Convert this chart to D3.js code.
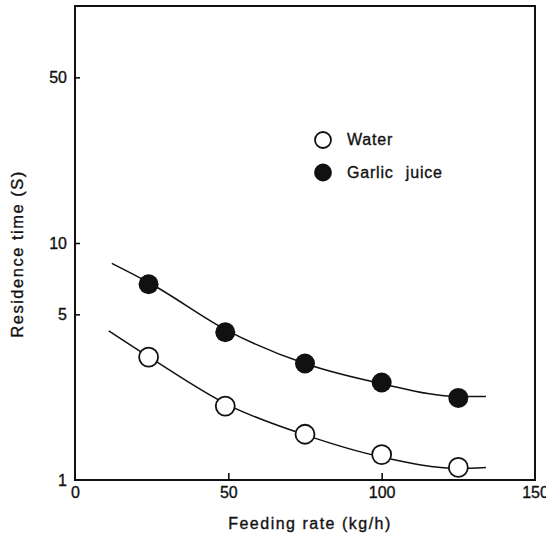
<!DOCTYPE html>
<html>
<head>
<meta charset="utf-8">
<script src="https://cdn.jsdelivr.net/npm/d3@7"></script>
<style>
    body { margin: 0; background: #fff; }
    text { font-family: "Liberation Sans", Arial, sans-serif; fill: #111; stroke: #111; stroke-width: 0.35; }
</style>
</head>
<body>
<div id="chart"></div>
<script>
// measured points
var feed = [24, 49, 75, 100, 125];
var water = [3.3, 2.05, 1.56, 1.28, 1.13];
var garlic = [6.7, 4.2, 3.1, 2.58, 2.22];

// fitted curves as drawn in the figure
var waterFitX = [11, 25, 50, 75, 100, 125, 134];
var waterFitY = [4.26, 3.25, 2.07, 1.55, 1.25, 1.12, 1.13];
var garlicFitX = [12, 25, 50, 75, 100, 125, 134];
var garlicFitY = [8.2, 6.7, 4.25, 3.1, 2.55, 2.25, 2.25];

var xTicks = [0, 50, 100, 150];
var yTicks = [1, 5, 10, 50];

(function() {
    var W = 546, H = 536;
    var margin = { top: 6, left: 75, right: 11, bottom: 56 },
        width = W - margin.left - margin.right,
        height = H - margin.top - margin.bottom;

    var svg = d3.select("#chart").append("svg")
        .attr("width", W)
        .attr("height", H)
        .append("g")
        .attr("transform", "translate(" + margin.left + "," + margin.top + ")");

    var x = d3.scaleLinear().domain([0, 150]).range([0, width]);
    var y = d3.scaleLog().domain([1, 100]).range([height, 0]);

    // frame
    svg.append("rect")
        .attr("width", width)
        .attr("height", height)
        .attr("fill", "none")
        .attr("stroke", "#111")
        .attr("stroke-width", 2);

    // axes (ticks pointing inward)
    var xAxis = svg.append("g")
        .attr("transform", "translate(0," + height + ")")
        .call(d3.axisBottom(x).tickValues(xTicks).tickSize(-7).tickPadding(7).tickFormat(d3.format("d")));
    xAxis.select(".domain").remove();
    xAxis.selectAll(".tick line").attr("stroke-width", 1.5)
        .filter(d => d == 0 || d == 150).remove();
    xAxis.selectAll("text").attr("font-size", 16).attr("font-family", "Liberation Sans, Arial, sans-serif");

    var yAxis = svg.append("g")
        .call(d3.axisLeft(y).tickValues(yTicks).tickSize(-5).tickPadding(8).tickFormat(d3.format("d")));
    yAxis.select(".domain").remove();
    yAxis.selectAll(".tick line").attr("stroke-width", 1.5)
        .filter(d => d == 1).remove();
    yAxis.selectAll("text").attr("font-size", 16).attr("font-family", "Liberation Sans, Arial, sans-serif");

    // axis titles
    svg.append("text")
        .attr("x", 235)
        .attr("y", height + 49)
        .attr("text-anchor", "middle")
        .attr("font-size", 16)
        .attr("letter-spacing", 1.5)
        .text("Feeding rate (kg/h)");

    svg.append("text")
        .attr("transform", "translate(-52,248) rotate(-90)")
        .attr("text-anchor", "middle")
        .attr("font-size", 16.5)
        .attr("letter-spacing", 1.5)
        .text("Residence time (S)");

    // fitted curves
    var line = d3.line()
        .x(d => x(d[0]))
        .y(d => y(d[1]))
        .curve(d3.curveMonotoneX);

    [[waterFitX, waterFitY], [garlicFitX, garlicFitY]].forEach(function(s) {
        svg.append("path")
            .datum(d3.zip(s[0], s[1]))
            .attr("d", line)
            .attr("fill", "none")
            .attr("stroke", "#111")
            .attr("stroke-width", 1.5);
    });

    // markers
    svg.selectAll(".water")
        .data(d3.zip(feed, water))
        .enter().append("circle")
        .attr("class", "water")
        .attr("cx", d => x(d[0]))
        .attr("cy", d => y(d[1]))
        .attr("r", 9.5)
        .attr("fill", "#fff")
        .attr("stroke", "#111")
        .attr("stroke-width", 1.8);

    svg.selectAll(".garlic")
        .data(d3.zip(feed, garlic))
        .enter().append("circle")
        .attr("class", "garlic")
        .attr("cx", d => x(d[0]))
        .attr("cy", d => y(d[1]))
        .attr("r", 10)
        .attr("fill", "#111");

    // legend
    var legend = svg.append("g").attr("transform", "translate(" + (323 - margin.left) + "," + (140 - margin.top) + ")");
    var items = [["Water", "#fff"], ["Garlic juice", "#111"]];
    items.forEach(function(it, i) {
        legend.append("circle")
            .attr("cx", 0)
            .attr("cy", i * 32.5)
            .attr("r", 8)
            .attr("fill", it[1])
            .attr("stroke", "#111")
            .attr("stroke-width", 1.8);
        legend.append("text")
            .attr("x", 24)
            .attr("y", i * 32.5 + 5)
            .attr("font-size", 16)
            .attr("letter-spacing", 0.8)
            .attr("word-spacing", 7)
            .text(it[0]);
    });
})();
</script>
</body>
</html>
